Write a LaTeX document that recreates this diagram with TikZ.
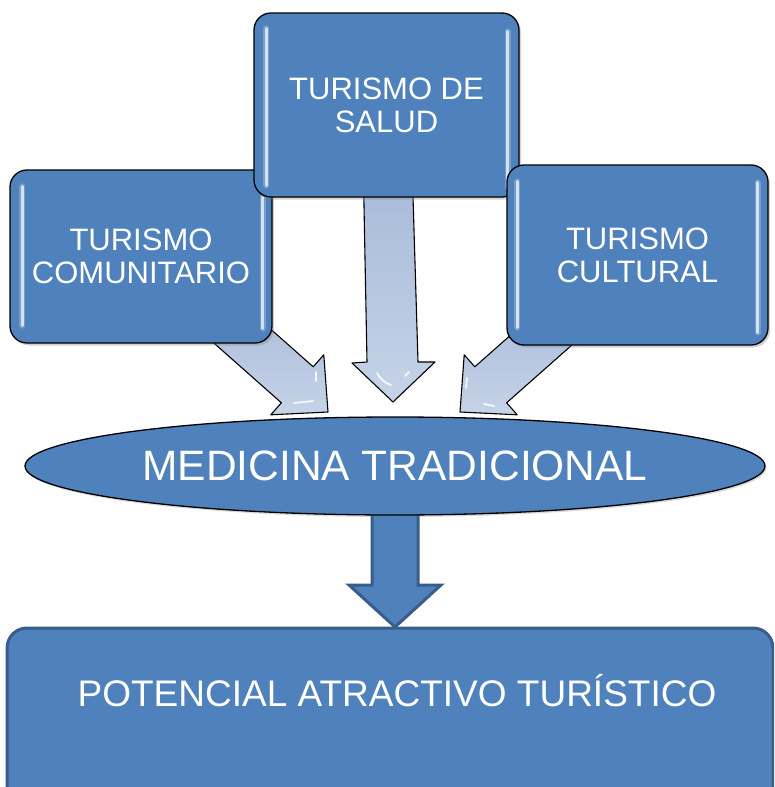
\documentclass[tikz,border=0pt]{standalone}
\usepackage{fontspec}
\setmainfont{Liberation Sans}
\usetikzlibrary{shadows,shapes.geometric}
\definecolor{boxblue}{HTML}{4F81BD}
\definecolor{boxedge}{HTML}{385D8A}
\definecolor{arrowtop}{HTML}{A8BBD9}
\definecolor{arrowbot}{HTML}{C6D3E8}
\begin{document}
\begin{tikzpicture}[x=1pt,y=-1pt,
  sidebox/.style={draw=black, line width=1.3pt, fill=boxblue, rounded corners=17pt,
    text=white, align=center, font=\fontsize{31}{33}\selectfont, inner sep=0pt,
    drop shadow={shadow xshift=2pt, shadow yshift=-2.5pt, opacity=0.35}},
  gloss/.style={white, opacity=0.7, line width=2.6pt, line cap=round},
  glow/.style={white, opacity=0.22, line width=6pt, line cap=round},
  lightarrow/.style={draw=black, line width=1.1pt, line join=round, top color=arrowtop, bottom color=arrowbot},
  glint/.style={white, opacity=0.85, line width=1.8pt, line cap=round},
  darkarrow/.style={draw=boxedge, line width=3pt, fill=boxblue, line join=miter},
  ovalnode/.style={draw=black, line width=1.3pt, ellipse, fill=boxblue, inner sep=0pt,
    text=white, font=\fontsize{42.5}{45}\selectfont,
    drop shadow={shadow xshift=1.5pt, shadow yshift=-2pt, opacity=0.3}},
  basebox/.style={draw=boxedge, line width=3pt, fill=boxblue, rounded corners=20pt},
  basetext/.style={text=white, font=\fontsize{37}{40}\selectfont, inner sep=0pt}
]
\clip (0,0) rectangle (774,787);
\useasboundingbox (0,0) rectangle (774,787);

% light block arrows (behind the boxes)
\path[lightarrow] (199.7,330.5) -- (281.4,402.8) -- (270.8,414.8) -- (328,412)
  -- (323.8,354.8) -- (313.2,366.8) -- (231.5,294.5) -- cycle;
\path[lightarrow] (588.3,330.5) -- (506.6,402.8) -- (517.2,414.8) -- (460,412)
  -- (464.2,354.8) -- (474.8,366.8) -- (556.5,294.5) -- cycle;
\path[lightarrow] (363.5,180) -- (367,362) -- (352,363) -- (393,402)
  -- (435,362) -- (418,362) -- (412.5,180) -- cycle;
% glints
\draw[glint] (377,373) to[bend right=20] (391,385);
\draw[glint] (405,376) -- (409,372);
\draw[glint] (294,403) -- (313,401);
\draw[glint] (316,372) -- (316,381);
\draw[glint] (467,378) -- (466,388);
\draw[glint] (484,404) -- (494,406);

% side boxes
\node[sidebox, minimum width=262, minimum height=173] (com) at (141,256.5) {TURISMO\\COMUNITARIO};
\draw[glow] ([xshift=13pt,yshift=-17pt]com.north west) -- ([xshift=13pt,yshift=18pt]com.south west);
\draw[gloss] ([xshift=13pt,yshift=-17pt]com.north west) -- ([xshift=13pt,yshift=18pt]com.south west);
\draw[glow] ([xshift=-10pt,yshift=-28pt]com.north east) -- ([xshift=-10pt,yshift=15pt]com.south east);
\draw[gloss] ([xshift=-10pt,yshift=-28pt]com.north east) -- ([xshift=-10pt,yshift=15pt]com.south east);

\node[sidebox, minimum width=265, minimum height=184] (sal) at (386.5,105) {TURISMO DE\\SALUD};
\draw[glow] ([xshift=13pt,yshift=-16pt]sal.north west) -- ([xshift=13pt,yshift=12pt]sal.south west);
\draw[gloss] ([xshift=13pt,yshift=-16pt]sal.north west) -- ([xshift=13pt,yshift=12pt]sal.south west);
\draw[glow] ([xshift=-12pt,yshift=-19pt]sal.north east) -- ([xshift=-12pt,yshift=10pt]sal.south east);
\draw[gloss] ([xshift=-12pt,yshift=-19pt]sal.north east) -- ([xshift=-12pt,yshift=10pt]sal.south east);

\node[sidebox, minimum width=261, minimum height=180] (cul) at (637.5,255) {TURISMO\\CULTURAL};
\draw[glow] ([xshift=11pt,yshift=-17pt]cul.north west) -- ([xshift=11pt,yshift=18pt]cul.south west);
\draw[gloss] ([xshift=11pt,yshift=-17pt]cul.north west) -- ([xshift=11pt,yshift=18pt]cul.south west);
\draw[glow] ([xshift=-11pt,yshift=-18pt]cul.north east) -- ([xshift=-11pt,yshift=13pt]cul.south east);
\draw[gloss] ([xshift=-11pt,yshift=-18pt]cul.north east) -- ([xshift=-11pt,yshift=13pt]cul.south east);

% bottom box
\node[basebox, minimum width=766, minimum height=192] (pot) at (390,724) {};
\node[basetext, anchor=base] (pottxt) at (397,706) {POTENCIAL ATRACTIVO TURÍSTICO};

% dark block arrow
\path[darkarrow] (372,500) -- (372,585) -- (349,585) -- (395,627) -- (441,585) -- (418,585) -- (418,500) -- cycle;

% ellipse
\node[ovalnode, minimum width=740, minimum height=98] (med) at (395,466) {MEDICINA TRADICIONAL};
\end{tikzpicture}
\end{document}
